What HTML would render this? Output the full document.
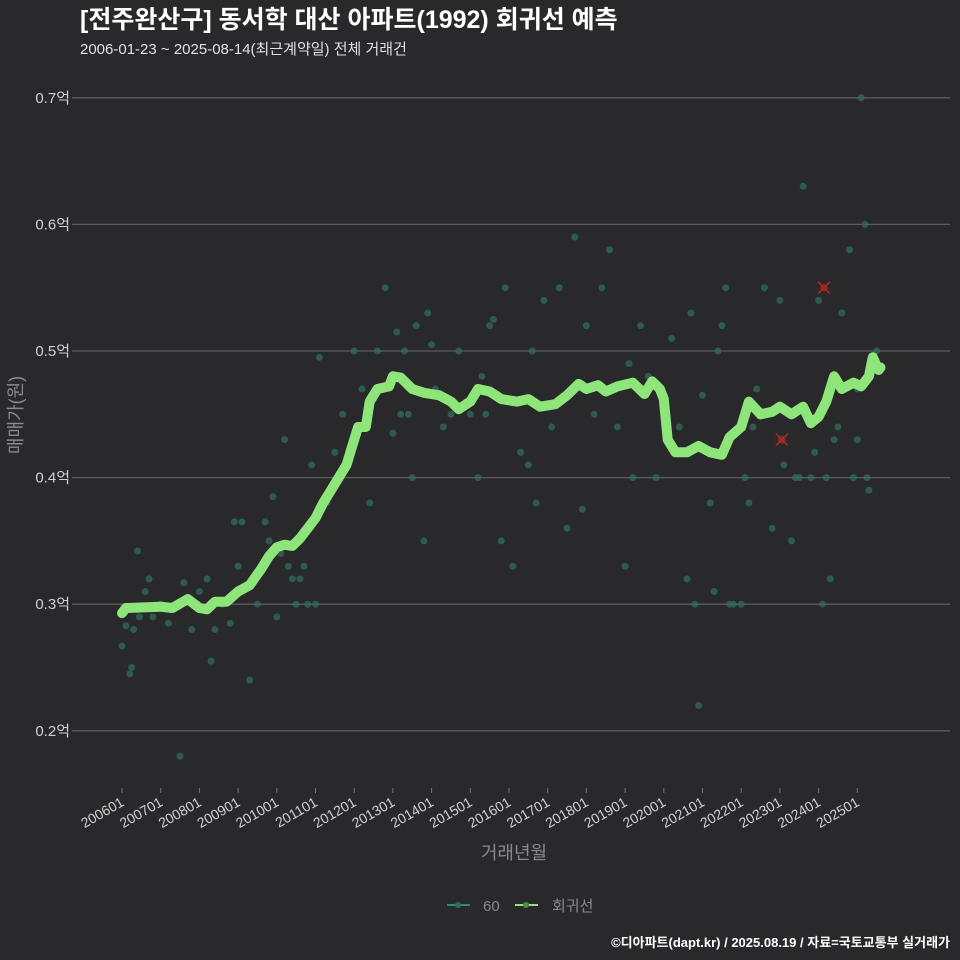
<!DOCTYPE html>
<html><head><meta charset="utf-8">
<style>
html,body{margin:0;padding:0;background:#29292b;}
svg{display:block;font-family:"Liberation Sans","Noto Sans CJK KR",sans-serif;}
</style></head>
<body>
<svg id="chart" width="960" height="960" viewBox="0 0 960 960">
<rect width="960" height="960" fill="#29292b"/>
<text x="80" y="28" fill="#ffffff" font-size="25" font-weight="bold">[전주완산구] 동서학 대산 아파트(1992) 회귀선 예측</text>
<text x="80" y="54" fill="#e0e0e0" font-size="15">2006-01-23 ~ 2025-08-14(최근계약일) 전체 거래건</text>
<g id="grid"></g>
<g id="yticks"></g>
<g id="xticks"></g>
<g id="points"></g>
<path id="reg" fill="none" stroke="#8ee57a" stroke-width="10" stroke-linejoin="round" stroke-linecap="round"/>
<g id="outliers"></g>
<text transform="translate(22,415) rotate(-90)" text-anchor="middle" fill="#8a8a8a" font-size="18">매매가(원)</text>
<text x="514" y="859" text-anchor="middle" fill="#8a8a8a" font-size="18">거래년월</text>
<g>
<g>
<line x1="447" y1="905" x2="470" y2="905" stroke="#2a8a80" stroke-width="2"/>
<circle cx="458" cy="905" r="3" fill="#2e6b5e"/>
<text x="483" y="911" fill="#8a8a8a" font-size="15">60</text></g>
<g>
<line x1="515" y1="905" x2="538" y2="905" stroke="#8ee57a" stroke-width="2"/>
<circle cx="526" cy="905" r="3" fill="#4f8a4a"/>
<text x="552" y="911" fill="#8a8a8a" font-size="15">회귀선</text></g>
</g>
<text x="950" y="947" text-anchor="end" fill="#ffffff" font-size="13" font-weight="bold">©디아파트(dapt.kr) / 2025.08.19 / 자료=국토교통부 실거래가</text>
</svg>
<script>
const yTicks=[0.2,0.3,0.4,0.5,0.6,0.7];
const yTickLabels=["0.2억","0.3억","0.4억","0.5억","0.6억","0.7억"];
const xTickYears=[2006,2007,2008,2009,2010,2011,2012,2013,2014,2015,2016,2017,2018,2019,2020,2021,2022,2023,2024,2025];
const xTickLabels=["200601","200701","200801","200901","201001","201101","201201","201301","201401","201501","201601","201701","201801","201901","202001","202101","202201","202301","202401","202501"];
const lineT=[2006.0,2006.1,2007.0,2007.3,2007.7,2008.0,2008.2,2008.4,2008.7,2009.0,2009.3,2009.6,2009.8,2010.0,2010.2,2010.4,2010.6,2010.8,2011.0,2011.2,2011.4,2011.6,2011.8,2012.0,2012.1,2012.3,2012.4,2012.6,2012.9,2013.0,2013.2,2013.5,2013.8,2014.2,2014.5,2014.7,2015.0,2015.2,2015.5,2015.8,2016.2,2016.5,2016.8,2017.2,2017.5,2017.8,2018.0,2018.3,2018.5,2018.8,2019.2,2019.5,2019.7,2019.9,2020.0,2020.1,2020.3,2020.6,2020.9,2021.2,2021.5,2021.7,2022.0,2022.2,2022.5,2022.8,2023.0,2023.3,2023.6,2023.8,2024.0,2024.2,2024.4,2024.6,2024.9,2025.1,2025.3,2025.4,2025.55,2025.6];
const lineV=[0.293,0.297,0.298,0.297,0.304,0.297,0.296,0.302,0.302,0.31,0.315,0.328,0.338,0.345,0.347,0.346,0.352,0.36,0.368,0.38,0.39,0.4,0.41,0.43,0.44,0.44,0.46,0.47,0.472,0.48,0.479,0.47,0.467,0.465,0.46,0.454,0.46,0.47,0.468,0.462,0.46,0.462,0.456,0.458,0.465,0.474,0.47,0.473,0.468,0.472,0.475,0.466,0.476,0.47,0.462,0.43,0.42,0.42,0.425,0.42,0.418,0.432,0.44,0.46,0.45,0.452,0.456,0.45,0.456,0.443,0.448,0.46,0.48,0.47,0.475,0.472,0.48,0.495,0.485,0.487];
const ptT=[2006.0,2006.1,2006.2,2006.25,2006.3,2006.4,2006.45,2006.6,2006.7,2006.8,
2007.0,2007.2,2007.5,2007.6,2007.8,2008.0,2008.2,2008.3,2008.4,2008.6,
2008.8,2008.9,2009.0,2009.1,2009.3,2009.5,2009.7,2009.8,2009.9,2010.0,
2010.1,2010.2,2010.3,2010.4,2010.5,2010.6,2010.7,2010.8,2010.9,2011.0,
2011.1,2011.3,2011.5,2011.7,2012.0,2012.2,2012.4,2012.6,2012.8,2013.0,
2013.1,2013.2,2013.3,2013.5,2013.6,2013.8,2013.9,2014.0,2014.1,2014.3,
2014.5,2014.7,2014.9,2015.0,2015.2,2015.3,2015.5,2015.6,2015.8,2015.9,
2016.1,2016.3,2016.5,2016.7,2016.9,2017.1,2017.3,2017.5,2017.7,2017.9,
2018.0,2018.2,2018.4,2018.6,2018.8,2019.0,2019.2,2019.4,2019.6,2019.8,
2020.2,2020.4,2020.6,2020.7,2020.8,2020.9,2021.0,2021.2,2021.3,2021.5,
2021.6,2021.8,2022.0,2022.2,2022.4,2022.6,2022.8,2023.0,2023.1,2023.3,
2023.5,2023.6,2023.8,2024.0,2024.1,2024.2,2024.3,2024.5,2024.6,2024.8,
2024.9,2025.0,2025.1,2025.2,2025.3,2025.5,2013.4,2015.4,2016.6,2018.1,
2019.1,2021.4,2022.3,2023.4,2024.4,2025.0,2025.25,2021.7,2022.1,2023.9];
const ptV=[0.267,0.283,0.245,0.25,0.28,0.342,0.29,0.31,0.32,0.29,
0.30,0.285,0.18,0.317,0.28,0.31,0.32,0.255,0.28,0.30,
0.285,0.365,0.33,0.365,0.24,0.30,0.365,0.35,0.385,0.29,
0.34,0.43,0.33,0.32,0.30,0.32,0.33,0.30,0.41,0.30,
0.495,0.38,0.42,0.45,0.50,0.47,0.38,0.50,0.55,0.435,
0.515,0.45,0.50,0.40,0.52,0.35,0.53,0.505,0.47,0.44,
0.45,0.50,0.46,0.45,0.40,0.48,0.52,0.525,0.35,0.55,
0.33,0.42,0.41,0.38,0.54,0.44,0.55,0.36,0.59,0.375,
0.52,0.45,0.55,0.58,0.44,0.33,0.40,0.52,0.48,0.40,
0.51,0.44,0.32,0.53,0.30,0.22,0.465,0.38,0.31,0.52,
0.55,0.30,0.30,0.38,0.47,0.55,0.36,0.54,0.41,0.35,
0.40,0.63,0.40,0.54,0.30,0.40,0.32,0.44,0.53,0.58,
0.40,0.43,0.70,0.60,0.39,0.50,0.45,0.45,0.50,0.47,
0.49,0.50,0.44,0.40,0.43,0.47,0.40,0.30,0.40,0.42];
const outT=[2023.05,2024.14];
const outV=[0.43,0.55];
const NS="http://www.w3.org/2000/svg";
function xs(t){return 122+(t-2006)*38.7;}
function ys(v){return 351-(v-0.5)*1266;}
function mk(tag,attrs,parent){const e=document.createElementNS(NS,tag);for(const k in attrs)e.setAttribute(k,attrs[k]);parent.appendChild(e);return e;}
const grid=document.getElementById('grid'),yg=document.getElementById('yticks'),xg=document.getElementById('xticks');
yTicks.forEach((v,i)=>{
 const l=mk('line',{x1:72,x2:950,y1:ys(v),y2:ys(v),stroke:'#5c5c5c','stroke-width':1.3},grid);
 
 
 const t=mk('text',{x:70,y:ys(v)+5,'text-anchor':'end',fill:'#d0d0d0','font-size':15},yg);
 
 
 t.textContent=yTickLabels[i];
});
xTickYears.forEach((yr,i)=>{
 const x=xs(yr);
 const l=mk('line',{x1:x,x2:x,y1:788,y2:793,stroke:'#777'},xg);
 
 
 const t=mk('text',{x:0,y:0,'text-anchor':'end',fill:'#d0d0d0','font-size':14,transform:`translate(${x+3},${805}) rotate(-30)`},xg);
 
 
 t.textContent=xTickLabels[i];
});
const pg=document.getElementById('points');
ptT.forEach((t,i)=>{
 const c=mk('circle',{cx:xs(t),cy:ys(ptV[i]),r:3.5,fill:'#2f6b5f','fill-opacity':0.75},pg);
 
 
});
let d='';
lineT.forEach((t,i)=>{d+=(i?'L':'M')+xs(t).toFixed(1)+','+ys(lineV[i]).toFixed(1);});
document.getElementById('reg').setAttribute('d',d);
const og=document.getElementById('outliers');
outT.forEach((t,i)=>{
 const x=xs(t),y=ys(outV[i]);
 const g=mk('g',{stroke:'#b02828','stroke-width':1.5},og);
 
 
 mk('circle',{cx:x,cy:y,r:4,fill:'#7a2a2a',stroke:'none'},g);
 mk('line',{x1:x-6,y1:y-6,x2:x+6,y2:y+6},g);
 mk('line',{x1:x-6,y1:y+6,x2:x+6,y2:y-6},g);
});
</script>
</body></html>
